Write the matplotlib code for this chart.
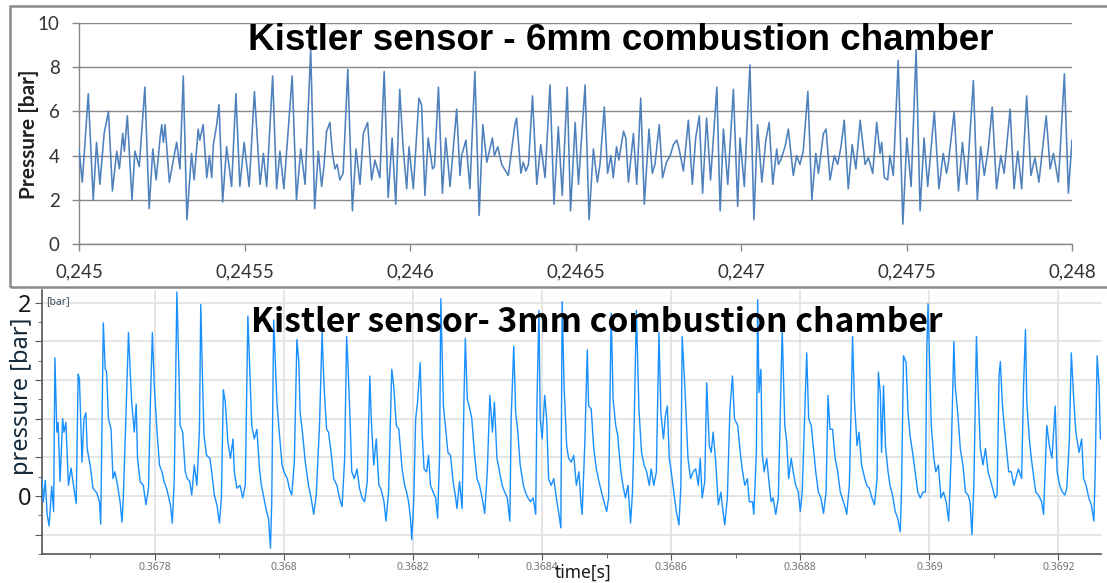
import matplotlib
matplotlib.use("Agg")
import matplotlib.pyplot as plt
import numpy as np
from matplotlib.patches import Rectangle

# ---------------- data: top panel (Kistler sensor, 6 mm) ----------------
# time in microseconds after t = 0.245 s, pressure in bar
top_t_a = [0, 10, 28, 43, 53, 63, 76, 89, 101, 114, 122, 132, 137, 146, 160, 169, 182, 199, 212, 223,
           233, 245, 250, 255, 260, 273, 285, 295, 305, 315, 326, 340, 348, 360, 365, 375, 386, 394, 401, 406,
           416, 423, 434, 446, 461, 474, 486, 499, 514, 530, 547, 557, 567, 585, 597, 607, 619, 644, 657, 670,
           683, 700, 712, 723, 733, 740, 748, 758, 765, 773, 780, 788, 798, 812, 826, 837, 849, 859, 872, 884,
           894, 909, 922, 934, 946, 957, 969, 979, 990]
top_p_a = [4.3, 2.8, 6.8, 2.0, 4.6, 2.7, 5.0, 6.0, 2.4, 4.2, 3.4, 5.0, 4.2, 5.8, 2.0, 4.2, 3.5, 7.1, 1.6, 4.3,
           2.9, 4.8, 5.4, 4.6, 5.4, 2.8, 3.8, 4.6, 3.4, 7.6, 1.1, 4.1, 2.9, 5.2, 4.7, 5.4, 3.0, 4.0, 3.0, 4.5,
           5.4, 6.3, 1.9, 4.4, 2.6, 6.8, 2.6, 4.6, 2.6, 6.9, 2.7, 4.1, 2.6, 7.6, 2.5, 4.2, 2.5, 7.6, 2.0, 4.3,
           2.7, 8.8, 1.6, 4.2, 2.6, 3.5, 5.1, 5.5, 4.2, 3.4, 3.6, 2.9, 3.2, 7.9, 1.5, 4.3, 2.7, 5.0, 5.5, 2.9,
           3.8, 3.0, 7.8, 2.1, 4.8, 1.8, 7.0, 4.4, 2.5]
top_t_b = [997, 1010, 1027, 1035, 1045, 1055, 1068, 1074, 1086, 1098, 1108, 1121, 1126, 1141, 1151, 1156, 1169, 1181, 1196, 1209,
           1220, 1232, 1249, 1255, 1265, 1277, 1297, 1317, 1322, 1335, 1342, 1350, 1358, 1370, 1383, 1395, 1408, 1423, 1435, 1448,
           1460, 1475, 1485, 1499, 1509, 1529, 1541, 1554, 1566, 1574, 1587, 1597, 1607, 1614, 1624, 1631, 1645, 1652, 1660, 1675,
           1685, 1697, 1708, 1722, 1732, 1740, 1753, 1763, 1775, 1786, 1796, 1806, 1813, 1826, 1841, 1853, 1863, 1874, 1884, 1896,
           1908, 1927, 1937, 1947, 1960, 1977, 1990]
top_p_b = [4.4, 2.5, 6.6, 6.3, 2.2, 4.8, 3.4, 3.5, 7.1, 2.3, 4.8, 2.6, 3.5, 6.1, 3.1, 4.0, 4.7, 2.5, 7.8, 1.3,
           5.4, 3.7, 4.8, 4.0, 4.4, 3.6, 3.1, 5.4, 5.7, 3.2, 3.7, 3.3, 3.6, 6.7, 2.7, 4.5, 3.0, 7.2, 1.8, 5.3,
           2.2, 7.1, 1.5, 5.5, 2.7, 7.2, 1.1, 4.3, 2.8, 3.6, 6.2, 3.2, 4.0, 3.0, 4.4, 3.8, 5.1, 4.8, 2.8, 5.0,
           2.7, 6.6, 1.8, 5.2, 3.2, 3.6, 5.4, 3.0, 3.7, 4.0, 4.5, 4.7, 4.3, 3.3, 5.6, 2.7, 4.8, 5.8, 2.3, 5.7,
           2.9, 7.1, 1.5, 5.2, 2.7, 7.0, 1.7]
top_t_c = [1997, 2010, 2027, 2039, 2050, 2063, 2075, 2085, 2096, 2108, 2113, 2120, 2133, 2143, 2158, 2168, 2178, 2188, 2202, 2214,
           2226, 2234, 2249, 2257, 2269, 2282, 2292, 2302, 2312, 2324, 2336, 2347, 2360, 2375, 2385, 2398, 2410, 2420, 2425, 2433,
           2443, 2450, 2460, 2475, 2489, 2501, 2514, 2529, 2541, 2553, 2564, 2584, 2598, 2611, 2621, 2626, 2644, 2657, 2669, 2682,
           2702, 2714, 2724, 2735, 2747, 2759, 2772, 2785, 2795, 2813, 2825, 2836, 2848, 2863, 2876, 2888, 2900, 2922, 2934, 2944,
           2959, 2977, 2989, 3000]
top_p_c = [4.8, 2.6, 8.1, 1.1, 5.4, 2.8, 4.7, 5.5, 2.7, 4.3, 3.6, 3.8, 4.4, 5.2, 3.1, 4.0, 3.6, 4.2, 6.9, 2.0,
           4.1, 3.2, 5.0, 5.2, 2.9, 4.0, 3.6, 4.4, 5.6, 2.5, 4.5, 3.4, 5.6, 3.6, 3.9, 3.2, 5.5, 4.1, 4.6, 3.0,
           2.9, 4.0, 3.1, 8.3, 0.9, 4.8, 2.6, 8.8, 1.5, 4.8, 2.6, 6.0, 2.5, 4.1, 3.2, 3.6, 6.0, 2.4, 4.6, 2.7,
           7.4, 2.0, 4.4, 3.1, 4.3, 6.2, 2.5, 4.0, 3.2, 6.1, 2.5, 4.2, 2.5, 6.7, 3.1, 3.9, 2.8, 5.8, 3.4, 4.1,
           2.8, 7.7, 2.3, 4.7]
top_xticks = [0.245, 0.2455, 0.246, 0.2465, 0.247, 0.2475, 0.248]
top_xlabels = ["0,245", "0,2455", "0,246", "0,2465", "0,247", "0,2475", "0,248"]
top_yticks = [0, 2, 4, 6, 8, 10]

# ---------------- data: bottom panel (Kistler sensor, 3 mm) ----------------
# time in microseconds after t = 0.3676 s, pressure in bar
bot_t_a = [25, 27, 30, 33, 36, 40, 43, 45, 48, 50,
           53, 57, 59, 62, 66, 70, 74, 78, 81, 83,
           87, 90, 93, 95, 100, 104, 110, 114, 116, 120,
           123, 125, 128, 132, 135, 138, 142, 146, 149, 151,
           155, 159, 162, 164, 168, 171, 173, 177, 182, 186,
           190, 193, 196, 199, 203, 207, 211, 214, 218, 224,
           227, 230, 234, 237, 239, 243, 247, 250, 254, 257,
           261, 265, 269, 271, 274, 276, 280, 285, 288, 292,
           296, 300, 303, 306, 309, 313, 317, 321, 323, 327,
           332, 336, 340, 344, 347, 350, 354, 358, 362, 365,
           368, 373, 376, 379, 381, 384, 387, 389, 393, 397,
           400, 405, 409, 412, 416, 420, 423, 425, 429, 433,
           438, 442, 446, 450, 455, 459, 462, 466, 469, 473,
           477, 482, 486, 490, 494, 497, 499, 502, 505, 509,
           513, 517, 521, 525, 529, 533, 535, 539, 543, 547,
           550, 555, 558, 562, 567, 570, 574, 578]
bot_p_a = [0.18, -0.06, 0.16, -0.19, -0.31, 0.10, -0.16, 1.43, 0.66, 0.76,
           0.15, 0.80, 0.66, 0.76, 0.11, 0.29, 0.10, -0.08, 1.26, 1.21,
           0.35, 0.80, 0.86, 0.49, 0.30, 0.08, 0.03, -0.06, -0.29, 1.79,
           1.31, 1.29, 0.80, 0.69, 0.18, 0.25, 0.11, -0.06, -0.27, -0.02,
           0.81, 1.69, 1.24, 0.97, 0.66, 0.95, 0.39, 0.15, 0.11, -0.09,
           0.08, 0.97, 1.69, 1.14, 0.69, 0.32, 0.25, 0.15, 0.08, -0.09,
           -0.28, 0.18, 2.11, 1.34, 0.73, 0.66, 0.25, 0.18, 0.15, 0.01,
           0.32, 0.11, 0.69, 1.98, 1.14, 0.63, 0.42, 0.39, 0.25, 0.01,
           -0.09, -0.28, -0.02, 1.10, 0.97, 0.56, 0.39, 0.59, 0.25, 0.08,
           0.11, -0.02, 0.11, 1.86, 1.28, 0.73, 0.59, 0.69, 0.28, 0.11,
           0.01, -0.16, -0.23, -0.54, -0.06, 1.82, 1.31, 0.97, 0.63, 0.32,
           0.25, 0.18, 0.06, 0.01, 0.35, 1.62, 1.38, 0.86, 0.63, 0.35,
           0.11, -0.02, -0.19, 0.01, 0.73, 1.69, 1.14, 0.69, 0.66, 0.45,
           0.18, 0.11, -0.02, -0.11, 0.39, 1.65, 1.38, 0.86, 0.25, 0.18,
           0.28, 0.08, -0.02, -0.06, 0.15, 1.24, 0.83, 0.32, 0.59, 0.11,
           0.08, -0.06, -0.26, 0.04, 1.31, 1.14, 0.73, 0.69]
bot_t_b = [583, 587, 590, 593, 596, 598, 601, 604, 607, 611,
           614, 617, 621, 624, 627, 631, 635, 638, 641, 643,
           647, 650, 654, 658, 662, 666, 668, 672, 676, 679,
           681, 684, 688, 691, 695, 699, 703, 707, 711, 715,
           719, 723, 726, 730, 734, 738, 742, 746, 750, 752,
           756, 759, 762, 766, 771, 774, 778, 782, 786, 790,
           792, 795, 797, 800, 804, 807, 810, 814, 818, 822,
           826, 829, 831, 834, 838, 841, 845, 849, 853, 857,
           860, 862, 866, 870, 872, 876, 880, 884, 888, 892,
           896, 900, 903, 907, 910, 914, 917, 922, 926, 929,
           933, 937, 940, 942, 946, 950, 954, 958, 962, 966,
           969, 973, 977, 981, 984, 988, 991, 994, 997, 1000,
           1004, 1008, 1012, 1015, 1017, 1020, 1022, 1026, 1030, 1034,
           1038, 1042, 1045, 1048, 1052, 1055, 1059, 1062, 1065, 1069,
           1073, 1077, 1079, 1083, 1087, 1091, 1095, 1098, 1103, 1107,
           1110, 1114, 1118, 1121]
bot_p_b = [0.28, 0.11, 0.04, -0.06, -0.23, -0.45, -0.06, 0.80, 0.97, 1.38,
           0.66, 0.28, 0.25, 0.42, 0.11, 0.04, -0.02, -0.23, 0.39, 2.04,
           0.93, 0.73, 0.45, 0.42, 0.15, -0.02, -0.13, 0.15, -0.13, 1.04,
           1.63, 1.00, 0.90, 0.80, 0.45, 0.18, 0.11, -0.02, -0.18, 0.25,
           1.04, 0.66, 0.97, 0.39, 0.25, 0.11, 0.04, -0.02, -0.26, 0.80,
           1.55, 0.86, 0.69, 0.32, 0.11, 0.04, -0.02, -0.06, -0.02, -0.19,
           0.97, 1.92, 0.80, 0.59, 1.04, 0.80, 0.18, 0.11, 0.18, -0.02,
           -0.19, -0.33, 2.01, 1.14, 0.52, 0.39, 0.35, 0.42, 0.11, 0.25,
           -0.06, -0.19, 0.52, 1.51, 0.93, 0.90, 0.49, 0.28, 0.15, 0.04,
           -0.06, -0.16, -0.02, 1.89, 1.00, 0.73, 0.63, 0.25, 0.08, -0.02,
           0.11, -0.28, 0.04, 0.52, 1.92, 0.90, 0.45, 0.32, 0.25, 0.11,
           0.28, 0.11, 0.25, 1.69, 0.86, 0.59, 0.83, 0.93, 0.39, 0.25,
           0.04, -0.16, -0.30, 0.11, 1.65, 1.28, 1.00, 0.39, 0.18, 0.25,
           0.28, 0.11, 0.39, -0.02, 0.15, 1.17, 0.52, 0.45, 0.66, 0.35,
           -0.09, 0.04, -0.09, -0.30, -0.02, 0.90, 1.24, 0.80, 0.73, 0.45,
           0.28, 0.11, 0.18, -0.06]
bot_t_c = [1126, 1128, 1132, 1134, 1136, 1139, 1141, 1144, 1148, 1152,
           1155, 1158, 1162, 1166, 1170, 1172, 1176, 1179, 1182, 1186,
           1189, 1193, 1197, 1200, 1203, 1207, 1210, 1213, 1217, 1220,
           1224, 1228, 1232, 1236, 1240, 1243, 1246, 1250, 1254, 1258,
           1262, 1265, 1270, 1272, 1276, 1279, 1281, 1284, 1288, 1291,
           1295, 1300, 1303, 1307, 1311, 1315, 1319, 1321, 1324, 1326,
           1329, 1332, 1336, 1339, 1343, 1347, 1351, 1355, 1357, 1360,
           1364, 1367, 1370, 1374, 1378, 1382, 1386, 1390, 1394, 1396,
           1398, 1400, 1403, 1407, 1410, 1414, 1418, 1422, 1426, 1430,
           1434, 1438, 1440, 1444, 1448, 1452, 1456, 1460, 1463, 1466,
           1469, 1473, 1475, 1479, 1483, 1487, 1491, 1494, 1498, 1502,
           1505, 1508, 1510, 1513, 1515, 1519, 1523, 1527, 1531, 1534,
           1538, 1543, 1546, 1549, 1551, 1555, 1558, 1562, 1565, 1569,
           1574, 1577, 1582, 1586, 1590, 1595, 1598, 1602, 1606, 1610,
           1613, 1617, 1620, 1624, 1627, 1632, 1636, 1639, 1643, 1647,
           1651, 1655, 1657, 1660, 1663, 1665, 1668]
bot_p_c = [-0.06, -0.19, 0.45, 2.03, 1.07, 1.31, 0.45, 0.25, 0.39, 0.11,
           -0.06, -0.02, -0.19, -0.02, 1.14, 1.72, 0.73, 0.56, 0.18, 0.39,
           0.25, 0.11, 0.04, -0.16, 0.04, 0.86, 1.48, 0.80, 0.73, 0.52,
           0.25, 0.04, -0.02, -0.18, 0.04, 1.04, 0.69, 0.69, 0.39, 0.25,
           0.04, -0.02, -0.13, -0.19, 0.11, 0.97, 1.65, 0.97, 0.52, 0.66,
           0.32, 0.18, 0.11, 0.08, -0.02, -0.09, 0.18, 1.28, 1.07, 0.45,
           1.14, 0.52, 0.25, 0.11, 0.01, -0.16, -0.23, -0.37, 0.11, 1.45,
           1.38, 0.86, 0.63, 0.45, 0.25, 0.04, -0.02, 0.04, 0.04, 1.48,
           1.99, 1.48, 0.73, 0.39, 0.25, 0.32, -0.02, 0.04, -0.06, -0.26,
           0.45, 1.60, 1.14, 0.86, 0.49, 0.32, 0.04, 0.01, -0.06, -0.40,
           0.11, 1.65, 1.21, 0.49, 0.32, 0.49, 0.25, 0.18, 0.08, -0.02,
           0.01, 1.24, 1.39, 0.97, 0.80, 0.52, 0.25, 0.25, 0.11, 0.18,
           0.28, 0.18, 1.14, 1.72, 0.97, 0.59, 0.39, 0.18, 0.04, 0.01,
           -0.06, -0.19, 0.73, 0.52, 0.39, 0.93, 0.25, 0.11, 0.04, 0.01,
           0.08, 0.59, 1.48, 0.97, 0.66, 0.45, 0.59, 0.18, 0.11, -0.02,
           -0.09, -0.26, 0.25, 1.45, 1.14, 0.59, 0.73]
bot_xticks = [0.3678, 0.3680, 0.3682, 0.3684, 0.3686, 0.3688, 0.3690, 0.3692]
bot_xlabels = ["0.3678", "0.368", "0.3682", "0.3684", "0.3686", "0.3688", "0.369", "0.3692"]
bot_yticks = [-0.4, 0.0, 0.4, 0.8, 1.2, 1.6, 2.0]
bot_ylabels = ["", "0", "", "", "", "", "2"]

# ---------------- figure ----------------
W, H = 1107, 583
fig = plt.figure(figsize=(W / 100, H / 100), dpi=100)
fig.patch.set_facecolor("white")


def fx(px):
    return px / W


def fy(py):
    return 1 - py / H


# outer frame of the top (Excel) chart
fig.patches.append(Rectangle((fx(10), fy(287)), fx(1120) - fx(10), (287 - 6) / H,
                             transform=fig.transFigure, fill=False,
                             edgecolor="#8a8a8a", linewidth=1.8, zorder=0))

# ---- top axes ----
ax1 = fig.add_axes([fx(79), fy(244), (1072 - 79) / W, (244 - 23) / H])
t_top = 0.245 + np.array(top_t_a + top_t_b + top_t_c) * 1e-6
p_top = np.array(top_p_a + top_p_b + top_p_c)
ax1.plot(t_top, p_top, color="#4f81bd", linewidth=1.15, zorder=3,
         solid_joinstyle="round")
ax1.set_xlim(0.245, 0.248)
ax1.set_ylim(0, 10)
ax1.set_yticks(top_yticks)
ax1.set_yticklabels([str(v) for v in top_yticks])
ax1.set_xticks(top_xticks)
ax1.set_xticklabels(top_xlabels)
ax1.grid(axis="y", color="#878787", linewidth=1.0)
ax1.set_axisbelow(True)
for s in ("top", "right"):
    ax1.spines[s].set_visible(False)
for s in ("left", "bottom"):
    ax1.spines[s].set_color("#878787")
    ax1.spines[s].set_linewidth(1.0)
ax1.tick_params(axis="both", direction="out", length=5, width=1.0, color="#878787",
                labelsize=13.5, labelcolor="#333333")
ax1.tick_params(axis="y", pad=9)
ax1.tick_params(axis="x", pad=9)
for lab in ax1.get_xticklabels() + ax1.get_yticklabels():
    lab.set_family("Lato")
fig.text(fx(29), fy(134), "Pressure [bar]", rotation=90, ha="center", va="center",
         fontsize=15, fontweight="bold", family="Lato", color="#222222")
fig.text(fx(621), fy(41), "Kistler sensor - 6mm combustion chamber", ha="center", va="center",
         fontsize=26.5, fontweight="bold", family="Liberation Sans", color="black")

# ---- bottom axes ----
ax2 = fig.add_axes([fx(42), fy(554), (1101 - 42) / W, (554 - 290) / H])
t_bot = 0.3676 + np.array(bot_t_a + bot_t_b + bot_t_c) * 1e-6
p_bot = np.array(bot_p_a + bot_p_b + bot_p_c)
ax2.plot(t_bot, p_bot, color="#1890ff", linewidth=1.0, zorder=3)
ax2.set_xlim(0.367625, 0.369266)
ax2.set_ylim(-0.574, 2.13)
ax2.set_yticks(bot_yticks)
ax2.set_yticklabels(bot_ylabels)
ax2.set_yticks(np.arange(-0.6, 2.1, 0.2), minor=True)
ax2.set_xticks(bot_xticks)
ax2.set_xticklabels(bot_xlabels)
ax2.set_xticks([0.3677, 0.3679, 0.3681, 0.3683, 0.3685, 0.3687, 0.3689, 0.3691], minor=True)
ax2.grid(which="major", color="#e4e4e4", linewidth=1.3)
ax2.set_axisbelow(True)
for s in ("top", "right"):
    ax2.spines[s].set_visible(False)
for s in ("left", "bottom"):
    ax2.spines[s].set_color("#555555")
    ax2.spines[s].set_linewidth(1.2)
ax2.tick_params(axis="x", which="major", direction="out", length=4, color="#555555",
                labelsize=7.5, labelcolor="#707070", pad=2)
ax2.tick_params(axis="x", which="minor", direction="out", length=3, color="#555555")
ax2.tick_params(axis="y", which="major", direction="out", length=5, color="#555555",
                labelsize=17, labelcolor="#1a1a1a", pad=3)
ax2.tick_params(axis="y", which="minor", direction="out", length=3, color="#555555")
for lab in ax2.get_xticklabels() + ax2.get_yticklabels():
    lab.set_family("Noto Sans")
fig.text(fx(46), fy(302), "[bar]", ha="left", va="center", fontsize=7.5,
         family="Noto Sans", color="#3a4a5a")
fig.text(fx(22), fy(396), "pressure [bar]", rotation=90, ha="center", va="center",
         fontsize=17, family="Noto Sans", color="#13293a")
fig.text(fx(583), fy(573), "time[s]", ha="center", va="center", fontsize=12.5,
         family="Noto Sans", color="#1a1a1a")
fig.text(fx(597), fy(322), "Kistler sensor- 3mm combustion chamber", ha="center", va="center",
         fontsize=24.2, fontweight="bold", family=["Noto Sans CJK KR", "DejaVu Sans"],
         color="black")

fig.savefig("out.png", dpi=100, facecolor="white")
